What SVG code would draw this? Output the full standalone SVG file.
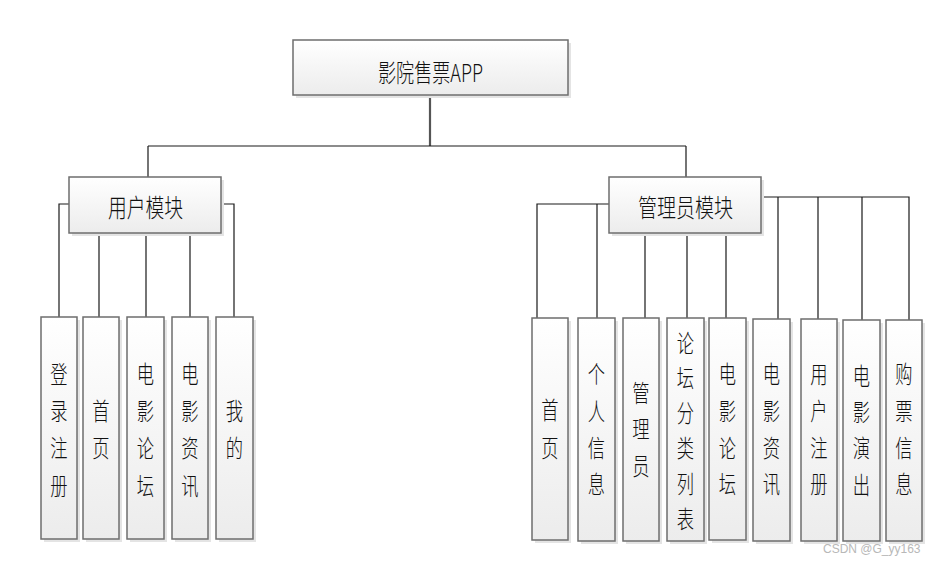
<svg xmlns="http://www.w3.org/2000/svg" width="936" height="566" viewBox="0 0 936 566">
<defs>
<linearGradient id="g" x1="0" y1="0" x2="0" y2="1">
<stop offset="0" stop-color="#ffffff"/>
<stop offset="1" stop-color="#ececec"/>
</linearGradient>
</defs>
<style>
.box{fill:url(#g);stroke:#6e6e6e;stroke-width:1.5}
.sh{fill:#e4e4e4}
.t{font-family:"Noto Sans CJK SC","Liberation Serif",serif;font-size:25px;font-weight:300;fill:#111;text-anchor:middle;dominant-baseline:central}
.v{font-family:"Noto Sans CJK SC",serif;font-size:24px;font-weight:300;fill:#111;text-anchor:middle;dominant-baseline:central}
.c{fill:none;stroke:#1a1a1a;stroke-width:1.2}
.wm{font-family:"Liberation Sans",Arial,sans-serif;font-size:12px;fill:#b8b8b8}
</style>
<rect width="936" height="566" fill="#fff"/>

<g id="connectors">
<path d="M430,95 V146" stroke="#555" stroke-width="2.2" fill="none"/>
<path class="c" d="M148,146 H686 M148,146 V177 M686,146 V177"/>
<path class="c" d="M69,204 H59 V318 M221,204 H234 V318 M99,233 V318 M146,233 V318 M190,233 V318"/>
<path class="c" d="M609,204 H537 V318 M597,204 V318 M761,197 H909 V320 M778,197 V319 M818,197 V319 M862,197 V320 M645,233 V318 M687,233 V318 M726,233 V318"/>
</g>

<g id="root">
<rect class="sh" x="296" y="43" width="275" height="55"/>
<rect class="box" x="293" y="40" width="275" height="55"/>
<text class="t" x="430.5" y="71" textLength="105" lengthAdjust="spacingAndGlyphs">影院售票APP</text>
</g>

<g id="user-module">
<rect class="sh" x="72" y="180" width="152" height="56"/>
<rect class="box" x="69" y="177" width="152" height="56"/>
<text class="t" x="145.5" y="206" textLength="75" lengthAdjust="spacingAndGlyphs">用户模块</text>
</g>

<g id="admin-module">
<rect class="sh" x="612" y="180" width="152" height="56"/>
<rect class="box" x="609" y="177" width="152" height="56"/>
<text class="t" x="685.5" y="206" textLength="95" lengthAdjust="spacingAndGlyphs">管理员模块</text>
</g>

<!-- user children -->
<g id="u-login">
<rect class="sh" x="44" y="320" width="36" height="222"/>
<rect class="box" x="41" y="317" width="36" height="222"/>
<g transform="translate(59 0) scale(0.72 1)"><text class="v"><tspan x="0" y="373">登</tspan><tspan x="0" y="410">录</tspan><tspan x="0" y="447">注</tspan><tspan x="0" y="485">册</tspan></text></g>
</g>
<g id="u-home">
<rect class="sh" x="86" y="320" width="36" height="222"/>
<rect class="box" x="83" y="317" width="36" height="222"/>
<g transform="translate(101 0) scale(0.72 1)"><text class="v"><tspan x="0" y="410">首</tspan><tspan x="0" y="447">页</tspan></text></g>
</g>
<g id="u-forum">
<rect class="sh" x="130" y="320" width="37" height="222"/>
<rect class="box" x="127" y="317" width="37" height="222"/>
<g transform="translate(145.5 0) scale(0.72 1)"><text class="v"><tspan x="0" y="373">电</tspan><tspan x="0" y="410">影</tspan><tspan x="0" y="447">论</tspan><tspan x="0" y="485">坛</tspan></text></g>
</g>
<g id="u-news">
<rect class="sh" x="175" y="320" width="36" height="222"/>
<rect class="box" x="172" y="317" width="36" height="222"/>
<g transform="translate(190 0) scale(0.72 1)"><text class="v"><tspan x="0" y="373">电</tspan><tspan x="0" y="410">影</tspan><tspan x="0" y="447">资</tspan><tspan x="0" y="485">讯</tspan></text></g>
</g>
<g id="u-mine">
<rect class="sh" x="219" y="320" width="37" height="222"/>
<rect class="box" x="216" y="317" width="37" height="222"/>
<g transform="translate(234.5 0) scale(0.72 1)"><text class="v"><tspan x="0" y="410">我</tspan><tspan x="0" y="447">的</tspan></text></g>
</g>

<!-- admin children -->
<g id="a-home">
<rect class="sh" x="535" y="321" width="36" height="222"/>
<rect class="box" x="532" y="318" width="36" height="222"/>
<g transform="translate(550 0) scale(0.72 1)"><text class="v"><tspan x="0" y="409">首</tspan><tspan x="0" y="447">页</tspan></text></g>
</g>
<g id="a-profile">
<rect class="sh" x="581" y="321" width="37" height="223"/>
<rect class="box" x="578" y="318" width="37" height="223"/>
<g transform="translate(596.5 0) scale(0.72 1)"><text class="v"><tspan x="0" y="373">个</tspan><tspan x="0" y="410">人</tspan><tspan x="0" y="447">信</tspan><tspan x="0" y="483">息</tspan></text></g>
</g>
<g id="a-admin">
<rect class="sh" x="626" y="321" width="36" height="223"/>
<rect class="box" x="623" y="318" width="36" height="223"/>
<g transform="translate(641 0) scale(0.72 1)"><text class="v"><tspan x="0" y="392">管</tspan><tspan x="0" y="428">理</tspan><tspan x="0" y="465">员</tspan></text></g>
</g>
<g id="a-forumcat">
<rect class="sh" x="670" y="321" width="37" height="223"/>
<rect class="box" x="667" y="318" width="37" height="223"/>
<g transform="translate(685.5 0) scale(0.72 1)"><text class="v"><tspan x="0" y="342">论</tspan><tspan x="0" y="377">坛</tspan><tspan x="0" y="412">分</tspan><tspan x="0" y="447">类</tspan><tspan x="0" y="483">列</tspan><tspan x="0" y="518">表</tspan></text></g>
</g>
<g id="a-forum">
<rect class="sh" x="712" y="321" width="37" height="222"/>
<rect class="box" x="709" y="318" width="37" height="222"/>
<g transform="translate(727.5 0) scale(0.72 1)"><text class="v"><tspan x="0" y="373">电</tspan><tspan x="0" y="410">影</tspan><tspan x="0" y="447">论</tspan><tspan x="0" y="483">坛</tspan></text></g>
</g>
<g id="a-news">
<rect class="sh" x="756" y="322" width="37" height="222"/>
<rect class="box" x="753" y="319" width="37" height="222"/>
<g transform="translate(771.5 0) scale(0.72 1)"><text class="v"><tspan x="0" y="373">电</tspan><tspan x="0" y="410">影</tspan><tspan x="0" y="447">资</tspan><tspan x="0" y="483">讯</tspan></text></g>
</g>
<g id="a-register">
<rect class="sh" x="804" y="322" width="36" height="222"/>
<rect class="box" x="801" y="319" width="36" height="222"/>
<g transform="translate(819 0) scale(0.72 1)"><text class="v"><tspan x="0" y="373">用</tspan><tspan x="0" y="410">户</tspan><tspan x="0" y="447">注</tspan><tspan x="0" y="483">册</tspan></text></g>
</g>
<g id="a-shows">
<rect class="sh" x="846" y="323" width="37" height="221"/>
<rect class="box" x="843" y="320" width="37" height="221"/>
<g transform="translate(861.5 0) scale(0.72 1)"><text class="v"><tspan x="0" y="375">电</tspan><tspan x="0" y="411">影</tspan><tspan x="0" y="447">演</tspan><tspan x="0" y="484">出</tspan></text></g>
</g>
<g id="a-tickets">
<rect class="sh" x="889" y="323" width="36" height="221"/>
<rect class="box" x="886" y="320" width="36" height="221"/>
<g transform="translate(904 0) scale(0.72 1)"><text class="v"><tspan x="0" y="373">购</tspan><tspan x="0" y="410">票</tspan><tspan x="0" y="447">信</tspan><tspan x="0" y="483">息</tspan></text></g>
</g>

<text class="wm" x="823" y="553">CSDN @G_yy163</text>
</svg>
